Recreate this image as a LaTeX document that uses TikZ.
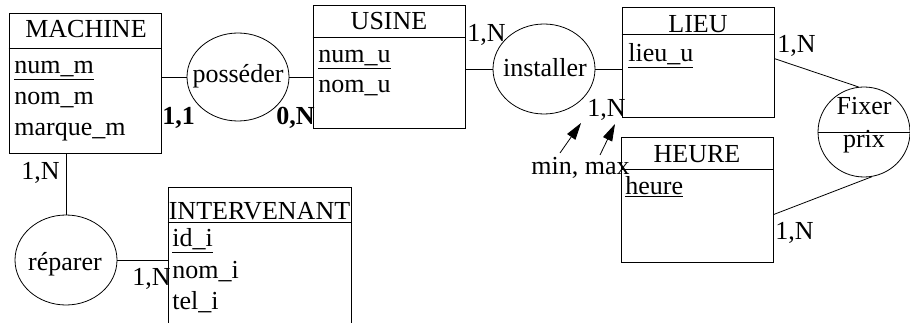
\documentclass[tikz,border=0pt]{standalone}
\usepackage{fontspec}
\setmainfont{Liberation Serif}
\usetikzlibrary{shapes.geometric,arrows.meta,calc}
\begin{document}
\begin{tikzpicture}[x=1pt,y=-1pt,
  line width=0.8pt,
  every node/.style={font=\fontsize{26}{31}\selectfont},
  entity/.style={draw, rectangle, inner sep=0pt, minimum width=152pt},
  rel/.style={draw, ellipse, inner sep=0pt},
  txt/.style={anchor=base west, inner sep=0pt},
  hdr/.style={anchor=base, inner sep=0pt},
  card/.style={anchor=base west, inner sep=0pt},
  bcard/.style={anchor=base west, inner sep=0pt, font=\fontsize{26}{31}\selectfont\bfseries},
  arr/.style={-{Triangle[length=17pt,width=10pt]}}
]
\useasboundingbox (0,0) rectangle (910,323);
\clip (0,0) rectangle (910,323);

% entities
\node[entity, minimum height=140pt] (machine) at (85,83) {};
\draw (machine.west |- 0,48) -- (machine.east |- 0,48);
\node[hdr] (machineh) at (86,38) {MACHINE};
\node[txt] (numm) at (14,74) {\underline{num\_m}};
\node[txt] (nomm) at (14,105) {nom\_m};
\node[txt] (marquem) at (14,136) {marque\_m};

\node[entity, minimum height=123pt] (usine) at (389,66.5) {};
\draw (usine.west |- 0,37) -- (usine.east |- 0,37);
\node[hdr] (usineh) at (389,30) {USINE};
\node[txt] (numu) at (318,63) {\underline{num\_u}};
\node[txt] (nomu) at (318,93) {nom\_u};

\node[entity, minimum height=110pt] (lieu) at (698,62) {};
\draw (lieu.west |- 0,34) -- (lieu.east |- 0,34);
\node[hdr] (lieuh) at (698,33) {LIEU};
\node[txt] (lieuu) at (628,62) {\underline{lieu\_u}};

\node[entity, minimum height=125pt] (heure) at (697,199.5) {};
\draw (heure.west |- 0,169) -- (heure.east |- 0,169);
\node[hdr] (heureh) at (697,163) {HEURE};
\node[txt] (heurea) at (625,195) {\underline{heure}};

\node[entity, minimum width=183pt, minimum height=153pt] (interv) at (259.5,263.5) {};
\draw (interv.west |- 0,222) -- (interv.east |- 0,222);
\node[hdr] (intervh) at (259.5,220) {INTERVENANT};
\node[txt] (idi) at (172,247) {\underline{id\_i}};
\node[txt] (nomi) at (172,278) {nom\_i};
\node[txt] (teli) at (172,309) {tel\_i};

% relations
\node[rel, minimum width=102pt, minimum height=88pt] (possede) at (238,77) {};
\node[hdr] at (238,83) {posséder};
\node[rel, minimum width=102pt, minimum height=90pt] (installer) at (544,69) {};
\node[hdr] at (545,77) {installer};
\node[rel, minimum width=102pt, minimum height=90pt] (reparer) at (66,260) {};
\node[hdr] at (65,270) {réparer};
\node[rel, minimum width=92pt, minimum height=90pt] (fixer) at (864,132) {};
\draw (fixer.west) -- (fixer.east);
\node[hdr] (fixert) at (864,115) {Fixer};
\node[hdr] (prixt) at (864,148) {prix};

% connectors
\draw (machine.east |- possede.west) -- (possede.west);
\draw (possede.east) -- (usine.west |- possede.east);
\draw (usine.east |- installer.west) -- (installer.west);
\draw (installer.east) -- (lieu.west |- installer.east);
\draw (reparer.north) -- (reparer.north |- machine.south);
\draw (reparer.east) -- (interv.west |- reparer.east);
\draw ($(lieu.north east)+(0,52)$) -- (fixer.97);
\draw ($(heure.north east)+(0,78)$) -- (fixer.280);

% cardinalities
\node[bcard] at (162,125) {1,1};
\node[bcard] at (276,125) {0,N};
\node[card] at (467,42) {1,N};
\node[card] at (587,117) {1,N};
\node[card] at (777,53) {1,N};
\node[card] at (775,240) {1,N};
\node[card] at (21,180) {1,N};
\node[card] at (132,285) {1,N};

% min, max
\node[txt] (minmax) at (531,175) {min, max};
\coordinate (a1s) at (560,153);
\coordinate (a1e) at (581,123);
\coordinate (a2s) at (600,155);
\coordinate (a2e) at (615,124);
\draw[arr] (a1s) -- (a1e);
\draw[arr] (a2s) -- (a2e);
\end{tikzpicture}
\end{document}
